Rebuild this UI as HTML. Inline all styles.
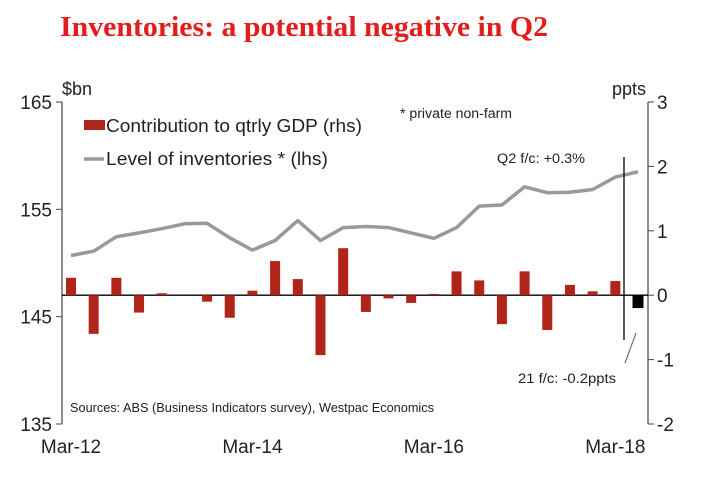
<!DOCTYPE html>
<html><head><meta charset="utf-8"><style>
body{margin:0;background:#fff}
svg text{font-family:"Liberation Sans",Arial,sans-serif;fill:#222}
</style></head><body>
<svg id="chart" width="703" height="488" viewBox="0 0 703 488" xmlns="http://www.w3.org/2000/svg">
<text x="60" y="36" style="font-family:'Liberation Serif',serif;font-weight:bold;font-size:28px;fill:#e31c1c" textLength="488" lengthAdjust="spacingAndGlyphs">Inventories: a potential negative in Q2</text>
<g id="axes"></g>
<g id="bars"></g>
<path id="line" fill="none" stroke="#999" stroke-width="3.5" stroke-linejoin="round"/>
<text x="62" y="95" font-size="18">$bn</text>
<text x="646" y="95" font-size="18" text-anchor="end">ppts</text>
<rect x="84" y="120" width="21" height="10" fill="#b0241a"/>
<text x="106" y="132" font-size="18" textLength="256" lengthAdjust="spacingAndGlyphs">Contribution to qtrly GDP (rhs)</text>
<line x1="84" y1="159" x2="104" y2="159" stroke="#999" stroke-width="3.5"/>
<text x="106" y="165" font-size="18" textLength="222" lengthAdjust="spacingAndGlyphs">Level of inventories * (lhs)</text>
<text x="400" y="118" font-size="13.5" textLength="112" lengthAdjust="spacingAndGlyphs">* private non-farm</text>
<text x="497" y="163" font-size="13.5" textLength="88" lengthAdjust="spacingAndGlyphs">Q2 f/c: +0.3%</text>
<text x="518" y="383" font-size="13.5" textLength="98" lengthAdjust="spacingAndGlyphs">21 f/c: -0.2ppts</text>
<line x1="624" y1="157" x2="624" y2="340" stroke="#000" stroke-width="1.3"/>
<line x1="625" y1="363" x2="636" y2="333" stroke="#555" stroke-width="1"/>
<text x="70" y="412" font-size="12.5" textLength="364" lengthAdjust="spacingAndGlyphs">Sources: ABS (Business Indicators survey), Westpac Economics</text>
</svg>
<script>
const lhsTicks=[135,145,155,165];
const rhsTicks=[-2,-1,0,1,2,3];
const xLabels=["Mar-12","Mar-14","Mar-16","Mar-18"];
const xLabelIdx=[0,8,16,24];
const contribution=[0.27,-0.6,0.27,-0.27,0.03,0,-0.1,-0.35,0.07,0.53,0.25,-0.93,0.73,-0.26,-0.05,-0.12,0.02,0.37,0.23,-0.45,0.37,-0.54,0.16,0.06,0.22,-0.2];
const inventories=[150.7,151.1,152.45,152.8,153.2,153.65,153.7,152.35,151.2,152.1,153.95,152.1,153.3,153.4,153.3,152.8,152.3,153.3,155.3,155.4,157.1,156.55,156.6,156.85,158.0,158.5];
const NS="http://www.w3.org/2000/svg";
const L=62,R=648,T=102,B=424;
const yL=v=>T+(165-v)*(B-T)/30;
const yR=v=>T+(3-v)*(B-T)/5;
const x=i=>71+i*22.68;
function mk(tag,attrs,parent){const e=document.createElementNS(NS,tag);for(const k in attrs)e.setAttribute(k,attrs[k]);parent.appendChild(e);return e;}
const ax=document.getElementById('axes');
let e=mk('line',{x1:L,y1:T,x2:L,y2:B,stroke:'#444','stroke-width':1.2},ax);


e=mk('line',{x1:R,y1:T,x2:R,y2:B,stroke:'#444','stroke-width':1.2},ax);


e=mk('line',{x1:L,y1:yR(0),x2:R,y2:yR(0),stroke:'#000','stroke-width':1.3},ax);


lhsTicks.forEach(v=>{
 const y=yL(v);
 mk('line',{x1:L-6,y1:y,x2:L,y2:y,stroke:'#444'},ax);
 const t=mk('text',{x:L-10,y:y+7,'font-size':19,'text-anchor':'end'},ax);t.textContent=v;
 
 
});
rhsTicks.forEach(v=>{
 const y=yR(v);
 mk('line',{x1:R,y1:y,x2:R+6,y2:y,stroke:'#444'},ax);
 const t=mk('text',{x:R+9,y:y+7,'font-size':19},ax);t.textContent=v;
 
 
});
xLabels.forEach((s,k)=>{
 const t=mk('text',{x:x(xLabelIdx[k]),y:453,'font-size':19,'text-anchor':'middle'},ax);t.textContent=s;
 
 
});
const bg=document.getElementById('bars');
contribution.forEach((v,i)=>{
 const y0=yR(0),y1=yR(v);
 const last=i===contribution.length-1;
 const w=last?11:10;
 const r=mk('rect',{x:x(i)-w/2,y:Math.min(y0,y1),width:w,height:Math.abs(y1-y0),fill:last?'#000':'#b0241a'},bg);
 
 
});
document.getElementById('line').setAttribute('d',inventories.map((v,i)=>(i?'L':'M')+x(i).toFixed(1)+' '+yL(v).toFixed(1)).join(' '));
</script>
</body></html>
